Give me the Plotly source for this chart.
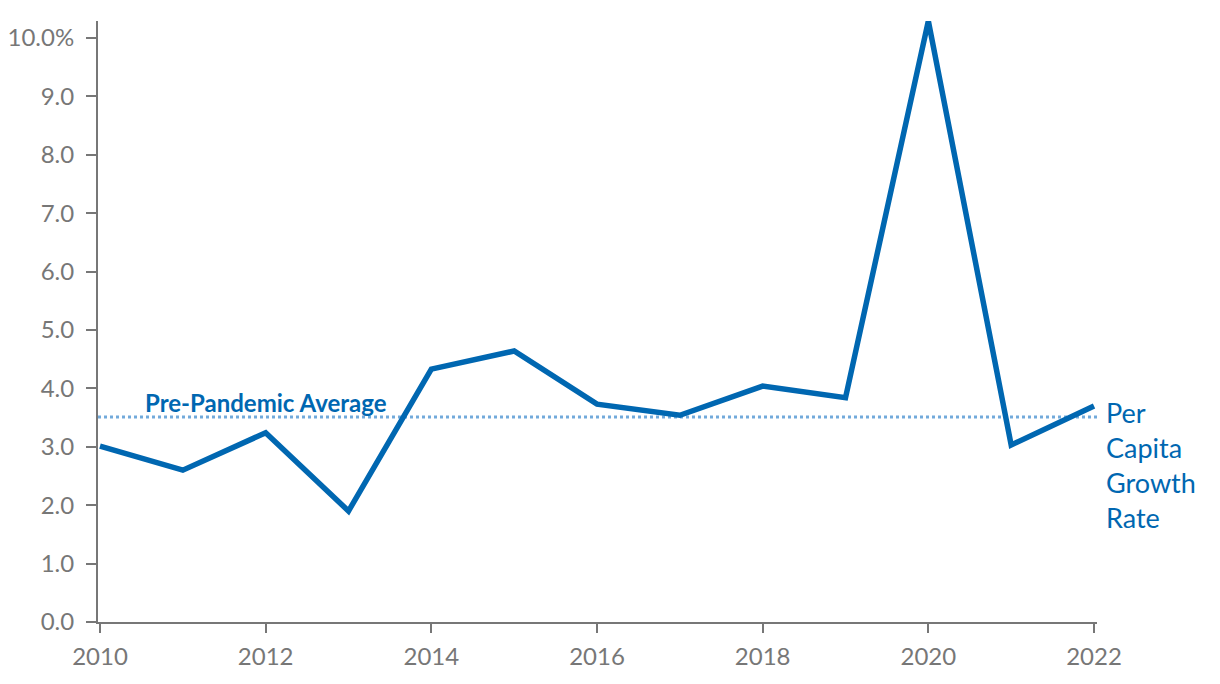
import plotly.graph_objects as go

years = list(range(2010, 2023))
growth = [3.01, 2.60, 3.24, 1.90, 4.33, 4.64, 3.73, 3.54, 4.04, 3.84, 10.29, 3.03, 3.70]
pre_pandemic_avg = 3.51
y_ticks = [0, 1, 2, 3, 4, 5, 6, 7, 8, 9, 10]
y_tick_text = ["0.0", "1.0", "2.0", "3.0", "4.0", "5.0", "6.0", "7.0", "8.0", "9.0", "10.0%"]
x_ticks = [2010, 2012, 2014, 2016, 2018, 2020, 2022]

BLUE = "#0067b1"
LIGHT = "#72aadb"
GRAY = "#777777"
FONT = "Lato, Open Sans, sans-serif"

fig = go.Figure()
fig.add_trace(go.Scatter(x=[2009.976, 2022.036], y=[pre_pandemic_avg]*2, mode="lines",
                         line=dict(color=LIGHT, width=3, dash="dot"), hoverinfo="skip"))
fig.add_trace(go.Scatter(x=years, y=growth, mode="lines",
                         line=dict(color=BLUE, width=5.5), cliponaxis=False))

fig.add_annotation(x=2010.52, y=pre_pandemic_avg, yshift=14, xanchor="left", yanchor="middle",
                   text="<b>Pre-Pandemic Average</b>", showarrow=False,
                   font=dict(family=FONT, size=24, color=BLUE))
fig.add_annotation(x=2022, xshift=10, y=3.70, yshift=12, xanchor="left", yanchor="top",
                   text="Per<br>Capita<br>Growth<br>Rate", align="left", showarrow=False,
                   font=dict(family=FONT, size=27, color=BLUE))

fig.update_layout(
    width=1220, height=684,
    margin=dict(l=98, r=123, t=21, b=62, autoexpand=False),
    paper_bgcolor="white", plot_bgcolor="white",
    showlegend=False,
    font=dict(family=FONT, size=24, color=GRAY),
    xaxis=dict(range=[2009.976, 2022.036], tickvals=x_ticks, ticks="outside", ticklen=9,
               tickwidth=2, tickcolor=GRAY, showline=True, linecolor=GRAY, linewidth=2,
               showgrid=False, zeroline=False, tickfont=dict(size=24, color=GRAY),
               ticklabelstandoff=3, automargin=False),
    yaxis=dict(range=[0, 10.29], tickvals=y_ticks, ticktext=y_tick_text, ticks="outside",
               ticklen=10, tickwidth=2, tickcolor=GRAY, showline=True, linecolor=GRAY,
               linewidth=2, showgrid=False, zeroline=False, tickfont=dict(size=24, color=GRAY),
               ticklabelstandoff=7, automargin=False),
)

fig.write_html("out.html")
